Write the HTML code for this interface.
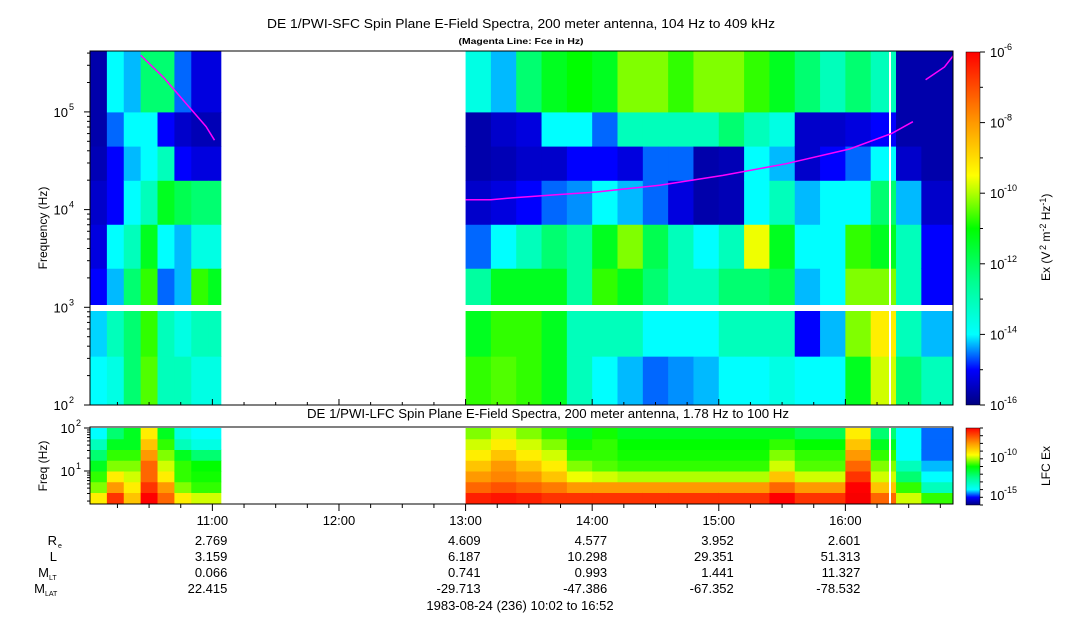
<!DOCTYPE html>
<html><head><meta charset="utf-8"><style>
body{margin:0;background:#fff;}
svg{display:block;font-family:"Liberation Sans",sans-serif;}
</style></head><body>
<svg id="c" width="1083" height="620" viewBox="0 0 1083 620"></svg>
<script>
// ---- data ----
const colStarts = [0,8,16,24,32,40,48,56, 178,190,202,214,226,238,250,262,274,286,298,310,322,334,346,358,370,382,394];
const colEnds   = [8,16,24,32,40,48,56,62, 190,202,214,226,238,250,262,274,286,298,310,322,334,346,358,370,382,394,410];
const sfcBands = [[2,2.5],[2.5,3],[3,3.4],[3.4,3.85],[3.85,4.3],[4.3,4.65],[4.65,5.0],[5.0,5.62]];
const sfcValues = [
 [-13,-13.3,-14.5,-14.8,-15,-15.2,-15.3,-15.3],
 [-12.8,-12.5,-13.5,-13,-14.5,-14.5,-14,-13],
 [-12,-12,-12,-12.5,-13,-13.5,-13,-13.5],
 [-10.8,-11,-11,-11.5,-12.5,-13,-13,-12],
 [-12.5,-12.5,-14,-13,-11.5,-12.5,-14.5,-12],
 [-12.5,-12.8,-13.5,-13.5,-11.8,-14.5,-15,-14],
 [-12.8,-12.5,-11,-12.8,-12,-14.8,-15.2,-14.8],
 [-12.8,-12.5,-11.5,-12.8,-12,-14.8,-15.2,-14.8],
 [-11,-11.5,-12.3,-14,-15,-15.3,-15.3,-12.8],
 [-10.8,-11,-11.5,-13,-14.8,-15.2,-15,-13.5],
 [-11,-11,-11.5,-12.5,-14.5,-15,-14.8,-12],
 [-11.5,-11.5,-11.5,-12,-14,-15,-13,-11.5],
 [-12.5,-12.5,-12.3,-12.3,-13.8,-14.5,-13,-11.3],
 [-13,-12.5,-11,-11.5,-13,-14.5,-14,-11.5],
 [-13.5,-12.5,-11.5,-10.5,-13.5,-14.8,-12.5,-10.5],
 [-14,-13,-12,-11.8,-14,-14,-12.5,-10.5],
 [-13.8,-13,-12.5,-12.5,-14.8,-14,-12.5,-11],
 [-13.5,-13,-12.5,-13,-15.3,-15.3,-12.5,-10.5],
 [-13,-12.5,-12,-12.5,-15.2,-15.2,-12,-10.5],
 [-13,-12.5,-12,-9.8,-13,-13,-12.5,-11],
 [-12.8,-12.5,-11.8,-11.5,-12.5,-13.5,-12.8,-11.5],
 [-13,-14.5,-13.5,-13,-13.5,-15,-15,-12],
 [-13,-13.5,-13,-13,-13,-14.5,-15,-12.5],
 [-11.5,-10.5,-10.5,-11,-13,-14,-14.8,-12],
 [-10,-9.5,-10.5,-11.5,-12,-13,-14.5,-12.5],
 [-12,-12.5,-12.5,-12.5,-13.5,-15,-15.3,-15.3],
 [-12.5,-13.5,-14.5,-14.5,-15,-15.3,-15.3,-15.3]
];
const lfcBands = [[0.25,0.5],[0.5,0.75],[0.75,1.0],[1.0,1.25],[1.25,1.5],[1.5,1.75],[1.75,2.0]];
const lfcValues = [
 [-9.5,-10.5,-11,-11.5,-12,-12.5,-13],
 [-7.5,-8.5,-9.5,-10.5,-11,-11.5,-12],
 [-9,-9.5,-10,-10.5,-11,-11.5,-11.5],
 [-7,-7.5,-8,-8,-8.5,-9,-9.5],
 [-8,-8.5,-9.5,-10,-10.5,-11,-11.5],
 [-9.5,-10.5,-11,-11,-11.5,-12.5,-12.8],
 [-10,-11,-11.2,-11.3,-12,-12.8,-13],
 [-10,-11,-11.2,-11.3,-12,-12.8,-13],
 [-7.3,-8,-8.5,-9,-9.5,-10,-10.5],
 [-7.2,-7.8,-8.3,-8.5,-9,-9.5,-10],
 [-7.3,-8,-8.5,-9,-9.5,-10,-10.5],
 [-7.5,-8.2,-9,-9.5,-10,-10.5,-11],
 [-7.5,-8.5,-9.8,-10.5,-11,-11.2,-11.5],
 [-7.5,-8.5,-10,-10.8,-11,-11,-11.2],
 [-7.5,-8.5,-10.2,-11,-11.2,-11.3,-11.5],
 [-7.5,-8.5,-10.2,-11,-11.2,-11.3,-11.5],
 [-7.5,-8.5,-10.2,-11,-11.2,-11.3,-11.5],
 [-7.5,-8.5,-10.2,-11,-11.2,-11.3,-11.5],
 [-7.5,-8.5,-10.2,-11,-11.2,-11.3,-11.5],
 [-7.5,-8.5,-10.2,-11,-11.2,-11.3,-11.5],
 [-7,-8,-9,-10,-10.5,-11,-11.5],
 [-7.5,-8.5,-10,-10.8,-11,-11.3,-11.8],
 [-7.5,-8.5,-10,-10.8,-11,-11.3,-11.8],
 [-6.8,-7,-7.5,-8,-8.5,-9,-9.5],
 [-8,-9,-10,-10.5,-11,-11.5,-12],
 [-10,-11,-12,-12.5,-13,-13,-13],
 [-11,-12.5,-13,-13.5,-14,-14,-14]
];
const fceTimes = [24,35,45,55,59, 178,190,200,220,240,270,300,330,360,380,390, 396,405,410];
const fceLogF  = [5.58,5.35,5.1,4.85,4.71, 4.10,4.10,4.12,4.15,4.18,4.25,4.35,4.47,4.62,4.78,4.9, 5.33,5.46,5.6];
const fceSegments = [[0,5],[5,16],[16,19]];
const timeTicks = ["11:00","12:00","13:00","14:00","15:00","16:00"];
const timeTickMin = [58,118,178,238,298,358];
const reVals = ["2.769","","4.609","4.577","3.952","2.601"];
const lVals = ["3.159","","6.187","10.298","29.351","51.313"];
const mltVals = ["0.066","","0.741","0.993","1.441","11.327"];
const mlatVals = ["22.415","","-29.713","-47.386","-67.352","-78.532"];

// ---- axes ----
const X0=90, X1=953, PXM=2.11;
const xT = t => X0 + PXM*t;
const yTop = lf => 405 - (lf-2)*97.7;
const yLow = lf => 428 + (2-lf)*43;
const cmapV=[-16,-15.5,-14.5,-13.8,-13,-12.3,-11.3,-10.3,-9.7,-8.5,-7,-6];
const cmapC=[[0,0,110],[0,0,150],[0,0,255],[0,144,255],[0,255,255],[0,255,160],[0,255,0],[160,255,0],[255,255,0],[255,153,0],[255,0,0],[220,0,0]];
function cmap(v){
  if(v<=cmapV[0]) return `rgb(${cmapC[0]})`;
  for(let i=1;i<cmapV.length;i++){
    if(v<=cmapV[i]){const f=(v-cmapV[i-1])/(cmapV[i]-cmapV[i-1]);const a=cmapC[i-1],b=cmapC[i];
      return `rgb(${a.map((x,k)=>Math.round(x+(b[k]-x)*f)).join(',')})`;}
  }
  return `rgb(${cmapC[cmapC.length-1]})`;
}
const NS="http://www.w3.org/2000/svg";
const svg=document.getElementById('c');
function el(tag,attrs,parent){const e=document.createElementNS(NS,tag);for(const k in attrs)e.setAttribute(k,attrs[k]);(parent||svg).appendChild(e);return e;}
function txt(s,x,y,size,anchor,parent,extra){const e=el('text',Object.assign({x:x,y:y,'font-size':size,'text-anchor':anchor||'start',fill:'#000'},extra||{}),parent);e.textContent=s;return e;}

const defs=el('defs',{});
const cp1=el('clipPath',{id:'cp1'},defs); el('rect',{x:X0,y:51,width:X1-X0,height:354},cp1);
const cp2=el('clipPath',{id:'cp2'},defs); el('rect',{x:X0,y:427,width:X1-X0,height:77},cp2);

const gTop=el('g',{'clip-path':'url(#cp1)'});


colStarts.forEach((t0,i)=>{
  sfcBands.forEach((b,j)=>{
    const r=el('rect',{x:xT(t0),y:yTop(b[1]),width:xT(colEnds[i])-xT(t0)+0.5,height:yTop(b[0])-yTop(b[1])+0.5,fill:cmap(sfcValues[i][j])},gTop);
    
    
  });
});
el('rect',{x:X0,y:305,width:X1-X0,height:6,fill:'#fff'},gTop);
el('rect',{x:889,y:52,width:2,height:353,fill:'#fff'},gTop);
fceSegments.forEach(s=>{
  let d='';
  for(let k=s[0];k<s[1];k++) d+=(k===s[0]?'M':'L')+xT(fceTimes[k]).toFixed(1)+','+yTop(fceLogF[k]).toFixed(1);
  const p=el('path',{d:d,stroke:'#ff00ff','stroke-width':1.5,fill:'none'},gTop);
  
  
});

const gLow=el('g',{'clip-path':'url(#cp2)'});


colStarts.forEach((t0,i)=>{
  lfcBands.forEach((b,j)=>{
    const r=el('rect',{x:xT(t0),y:yLow(b[1]),width:xT(colEnds[i])-xT(t0)+0.5,height:yLow(b[0])-yLow(b[1])+0.5,fill:cmap(lfcValues[i][j])},gLow);
    
    
  });
});
el('rect',{x:889,y:427,width:2,height:77,fill:'#fff'},gLow);

el('rect',{x:X0,y:51,width:X1-X0,height:354,fill:'none',stroke:'#000','stroke-width':1});
el('rect',{x:X0,y:427,width:X1-X0,height:77,fill:'none',stroke:'#000','stroke-width':1});

const yAx=el('g',{});  
for(let d=2;d<=5;d++){
  for(let m=1;m<10;m++){
    const lf=d+Math.log10(m); if(lf>5.62) break;
    const y=yTop(lf);
    el('line',{x1:X0-(m===1?6:3),x2:X0,y1:y,y2:y,stroke:'#000'},yAx);
  }
  txt('10',68,yTop(d)+5,13,'end',yAx);
  txt(String(d),69,yTop(d)-2,9,'start',yAx);
}
const yl=txt('Frequency (Hz)',0,0,12,'middle',svg,{transform:'translate(47,228) rotate(-90)'});
 

const yAx2=el('g',{});  
for(let d=0;d<=2;d++){
  for(let m=1;m<10;m++){
    const lf=d+Math.log10(m); if(lf<0.25||lf>2) continue;
    const y=yLow(lf);
    el('line',{x1:X0-(m===1?6:3),x2:X0,y1:y,y2:y,stroke:'#000'},yAx2);
  }
}
[1,2].forEach(d=>{txt('10',75,yLow(d)+5,13,'end',yAx2);txt(String(d),76,yLow(d)-2,9,'start',yAx2);});
txt('Freq (Hz)',0,0,12,'middle',svg,{transform:'translate(47,466) rotate(-90)'});

const xAx=el('g',{});  
for(let t=13;t<=410;t+=15){
  const x=xT(t); const major=((t-58)%60===0);
  el('line',{x1:x,x2:x,y1:504,y2:504+(major?7:4),stroke:'#000'},xAx);
  el('line',{x1:x,x2:x,y1:405,y2:405-(major?6:3),stroke:'#000'},xAx);
}
timeTicks.forEach((s,i)=>{
  const x=xT(timeTickMin[i]);
  txt(s,x,525,13,'middle',xAx);
  txt(reVals[i],x+15,545,13,'end',xAx);
  txt(lVals[i],x+15,561,13,'end',xAx);
  txt(mltVals[i],x+15,577,13,'end',xAx);
  txt(mlatVals[i],x+15,593,13,'end',xAx);
});
txt('R',57,545,13,'end'); txt('e',58,548,7,'start');
txt('L',57,561,13,'end');
txt('M',49,577,13,'end'); txt('LT',49,580,7,'start');
txt('M',45,593,13,'end'); txt('LAT',45,596,7,'start');
txt('1983-08-24 (236) 10:02 to 16:52',520,610,13,'middle');

const t1=txt('DE 1/PWI-SFC  Spin Plane E-Field Spectra, 200 meter antenna, 104 Hz to 409 kHz',521,28,13,'middle',svg,{textLength:508,lengthAdjust:'spacingAndGlyphs'});
 
txt('(Magenta Line: Fce in Hz)',521,44,8,'middle',svg,{'font-weight':'bold',textLength:125,lengthAdjust:'spacingAndGlyphs'});
const t2=txt('DE 1/PWI-LFC  Spin Plane E-Field Spectra, 200 meter antenna, 1.78 Hz to 100 Hz',548,418,13,'middle',svg,{textLength:482,lengthAdjust:'spacingAndGlyphs'});
 

const cbStops=[[0,'#00007f'],[0.1,'#0000ff'],[0.2,'#00ffff'],[0.35,'#00ff90'],[0.5,'#00ff00'],[0.6,'#b0ff00'],[0.65,'#ffff00'],[0.8,'#ff9900'],[1,'#ff0000']];
const gr=el('linearGradient',{id:'jet',x1:0,y1:1,x2:0,y2:0},defs);
cbStops.forEach(s=>el('stop',{offset:s[0],'stop-color':s[1]},gr));
const cb=el('rect',{x:966,y:52,width:14,height:353,fill:'url(#jet)',stroke:'#000','stroke-width':0.5});
 
for(let k=0;k<=10;k++){
  const y=405-k*35.3;
  el('line',{x1:980,x2:(k%2===0?985:983),y1:y,y2:y,stroke:'#000'});
  if(k%2===0){txt('10',990,y+5,13,'start');txt(String(-16+k),1004,y-2,9,'start');}
}
txt('Ex (V',0,0,12,'start',svg,{transform:'translate(1050,281) rotate(-90)'});
const ul=txt('',0,0,12,'start',svg,{transform:'translate(1050,250) rotate(-90)'});
ul.innerHTML='<tspan font-size="9" dy="-4">2</tspan><tspan dy="4"> m</tspan><tspan font-size="9" dy="-4">-2</tspan><tspan dy="4"> Hz</tspan><tspan font-size="9" dy="-4">-1</tspan><tspan dy="4">)</tspan>';
const cb2=el('rect',{x:966,y:428,width:14,height:77,fill:'url(#jet)',stroke:'#000','stroke-width':0.5});
 
for(let k=0;k<=10;k++){const y=505-k*7.7;el('line',{x1:980,x2:983,y1:y,y2:y,stroke:'#000'});}
txt('10',990,462,13,'start');txt('-10',1004,455,9,'start');
txt('10',990,500,13,'start');txt('-15',1004,493,9,'start');
txt('LFC Ex',0,0,12,'middle',svg,{transform:'translate(1050,466) rotate(-90)'});
</script>
</body></html>
